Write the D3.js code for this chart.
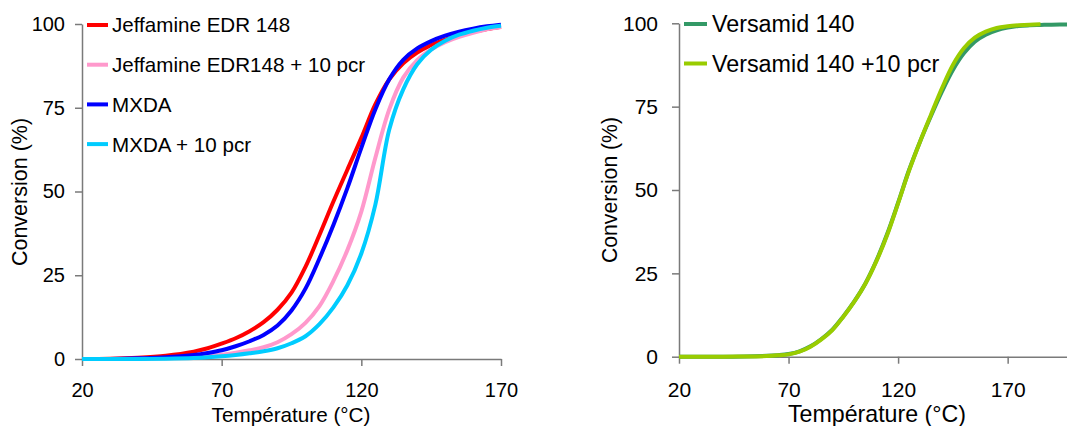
<!DOCTYPE html>
<html>
<head>
<meta charset="utf-8">
<script src="https://cdn.jsdelivr.net/npm/d3@7"></script>
<style>
  html, body { margin: 0; padding: 0; background: #fff; }
  svg { display: block; font-family: "Liberation Sans", Arial, sans-serif; }
</style>
</head>
<body>
<svg id="chart" width="1067" height="426"></svg>
<script>
// ---------- DATA ----------
const tempsLeft = [20, 30, 40, 50, 60, 65, 70, 75, 80, 85, 90, 95, 100, 105, 110, 115, 120, 125, 130, 135, 140, 145, 150, 155, 160, 165, 170];
const jeffamine      = [0, 0.1, 0.4, 1, 2.2, 3.2, 4.6, 6.2, 8.3, 11, 14.7, 19.8, 27.5, 37, 47, 56.5, 66, 76, 83.5, 88.3, 91.5, 93.7, 95.3, 96.6, 97.7, 98.5, 99.2];
const jeffamine10    = [0, 0, 0.1, 0.3, 0.6, 0.9, 1.3, 1.9, 2.6, 3.5, 5, 7.4, 10.8, 15.8, 23.3, 32.5, 44, 60, 74.5, 84, 89.2, 92.4, 94.6, 96.2, 97.4, 98.4, 99.1];
const mxda           = [0, 0, 0.2, 0.5, 1.2, 1.8, 2.6, 3.8, 5.3, 7.2, 10, 14.5, 21, 30, 40, 51, 63, 74.5, 83.5, 89.3, 92.7, 94.9, 96.5, 97.7, 98.6, 99.3, 99.8];
const mxda10         = [0, 0, 0, 0.1, 0.3, 0.5, 0.8, 1.2, 1.7, 2.3, 3.2, 4.7, 6.8, 10.4, 15.4, 22, 31.5, 46, 68.5, 80.5, 88, 92.3, 95, 96.8, 98, 98.9, 99.5];

const tempsVersamid   = [20, 40, 50, 60, 65, 70, 75, 80, 85, 90, 95, 100, 105, 110, 115, 120, 125, 130, 135, 140, 145, 150, 155, 160, 165, 170, 175, 180, 185, 190, 200];
const versamid        = [0, 0, 0.05, 0.25, 0.45, 0.8, 1.6, 3.1, 5.3, 8.1, 12.1, 16.6, 21.9, 28.7, 36.8, 46.2, 56, 64.5, 72.2, 79.5, 86, 91, 94.5, 96.6, 97.9, 98.7, 99.2, 99.4, 99.5, 99.6, 99.6];
const tempsVersamid10 = [20, 40, 50, 60, 65, 70, 75, 80, 85, 90, 95, 100, 105, 110, 115, 120, 125, 130, 135, 140, 145, 150, 155, 160, 165, 170, 175, 180, 185];
const versamid10      = [0, 0, 0.05, 0.2, 0.4, 0.7, 1.5, 3, 5.2, 8, 12, 16.5, 21.8, 28.5, 36.5, 46, 55.8, 64.5, 72.6, 80.5, 87.5, 92.5, 95.7, 97.5, 98.6, 99.1, 99.4, 99.6, 99.7];

const xTicks = [20, 70, 120, 170];
const yTicks = [0, 25, 50, 75, 100];

const leftSeries = [
  { name: "Jeffamine EDR 148",          x: tempsLeft, y: jeffamine,   color: "#ff0000" },
  { name: "Jeffamine EDR148 + 10 pcr",  x: tempsLeft, y: jeffamine10, color: "#ff99cc" },
  { name: "MXDA",                       x: tempsLeft, y: mxda,        color: "#0000ff" },
  { name: "MXDA + 10 pcr",              x: tempsLeft, y: mxda10,      color: "#00ccff" }
];
const rightSeries = [
  { name: "Versamid 140",         x: tempsVersamid,   y: versamid,   color: "#339966" },
  { name: "Versamid 140 +10 pcr", x: tempsVersamid10, y: versamid10, color: "#99cc00" }
];

// ---------- DRAW ----------
const svg = d3.select("#chart");
const axisColor = "#7a7a7a";

function panel(cfg) {
  const x = d3.scaleLinear().domain(cfg.xDomain).range(cfg.xRange);
  const y = d3.scaleLinear().domain([0, 100]).range(cfg.yRange);
  const g = svg.append("g");

  const xAxis = g.append("g")
    .attr("transform", `translate(0,${cfg.yRange[0]})`)
    .call(d3.axisBottom(x).tickValues(xTicks).tickSizeInner(7).tickSizeOuter(0).tickPadding(cfg.xPad).tickFormat(d3.format("d")));
  const yAxis = g.append("g")
    .attr("transform", `translate(${cfg.xRange[0]},0)`)
    .call(d3.axisLeft(y).tickValues(yTicks).tickSizeInner(7).tickSizeOuter(0).tickPadding(cfg.yPad).tickFormat(d3.format("d")));
  [xAxis, yAxis].forEach(a => {
    a.select(".domain").attr("stroke", axisColor).attr("stroke-width", 1.5);
    a.selectAll(".tick line").attr("stroke", axisColor).attr("stroke-width", 1.5);
    a.selectAll(".tick text").attr("fill", "#000").style("font-size", cfg.tickFont + "px")
      .style("font-family", '"Liberation Sans", Arial, sans-serif');
  });

  const line = d3.line().curve(d3.curveCatmullRom.alpha(0.5));
  cfg.series.forEach(s => {
    const pts = s.x.map((t, i) => [x(t), y(s.y[i])]);
    g.append("path").attr("d", line(pts))
      .attr("fill", "none").attr("stroke", s.color).attr("stroke-width", 4)
      .attr("stroke-linejoin", "round");
  });

  g.append("text")
    .attr("x", cfg.xTitle[0]).attr("y", cfg.xTitle[1])
    .attr("text-anchor", "middle").style("font-size", cfg.titleFont + "px").attr("fill", "#000")
    .text("Température (°C)");
  g.append("text")
    .attr("transform", `translate(${cfg.yTitle[0]},${cfg.yTitle[1]}) rotate(-90)`)
    .attr("text-anchor", "middle").style("font-size", cfg.yTitleFont + "px").attr("fill", "#000")
    .text("Conversion (%)");

  cfg.series.forEach((s, i) => {
    const ly = cfg.legend.y0 + i * cfg.legend.dy;
    g.append("line")
      .attr("x1", cfg.legend.x1).attr("x2", cfg.legend.x2)
      .attr("y1", ly).attr("y2", ly)
      .attr("stroke", s.color).attr("stroke-width", 4);
    g.append("text")
      .attr("x", cfg.legend.tx).attr("y", ly + cfg.legendFont * 0.36)
      .style("font-size", cfg.legendFont + "px").attr("fill", "#000")
      .text(s.name);
  });
}

panel({
  xDomain: [20, 170], xRange: [82, 501],
  yRange: [359, 24],
  xPad: 17, yPad: 10,
  tickFont: 20, titleFont: 20.7, yTitleFont: 21.5, legendFont: 20.6,
  series: leftSeries,
  xTitle: [291, 421.5], yTitle: [26.5, 192],
  legend: { x1: 87, x2: 108, tx: 112, y0: 25, dy: 39.7 }
});

panel({
  xDomain: [20, 200], xRange: [679, 679 + 180 * 2.191],
  yRange: [356.7, 23.3],
  xPad: 18, yPad: 14,
  tickFont: 21, titleFont: 23.2, yTitleFont: 21.2, legendFont: 23.3,
  series: rightSeries,
  xTitle: [877, 421.5], yTitle: [617, 190],
  legend: { x1: 684, x2: 707, tx: 712, y0: 24, dy: 39.5 }
});
</script>
</body>
</html>
